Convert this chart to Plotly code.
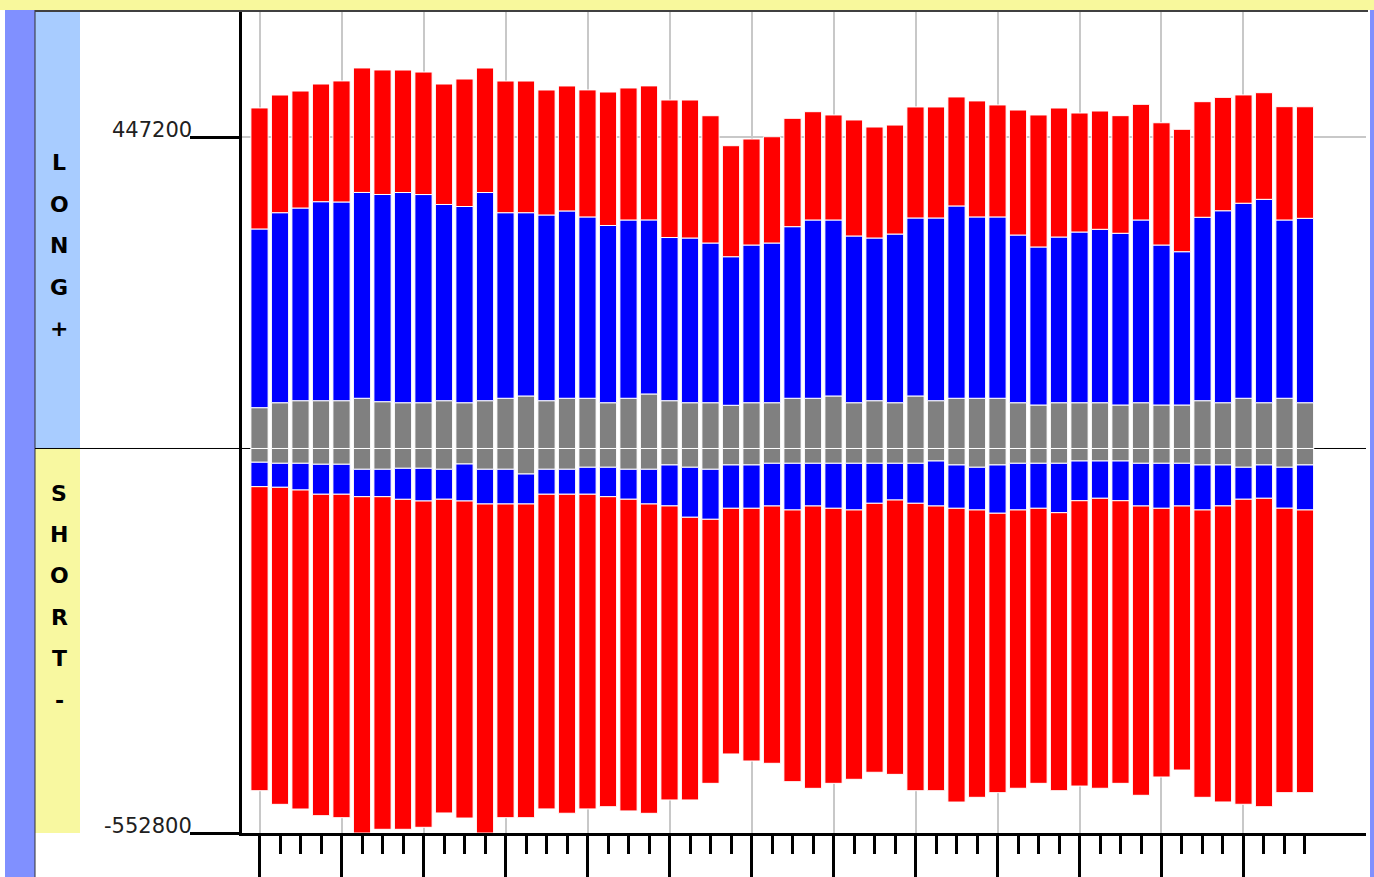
import plotly.graph_objects as go

# Weekly positions (contracts), long side
grey_long = [58700, 65800, 68700, 68700, 68700, 72200, 67300, 65800, 65800, 68700,
             65800, 68700, 72200, 75500, 68700, 72200, 72200, 65800, 72200, 78400,
             68700, 65800, 65800, 62100, 65800, 65800, 72200, 72200, 75500, 65800,
             68700, 65800, 75500, 68700, 72200, 72200, 72200, 65800, 62500, 65800,
             65800, 65800, 62500, 65800, 62500, 62500, 68700, 65800, 72200, 65800,
             72200, 65800]
blue_long = [256900, 273200, 277000, 286100, 285700, 295900, 297900, 302200, 299300, 282100,
             282100, 299300, 266800, 263500, 267000, 269300, 260700, 254800, 256300, 250200,
             234600, 236800, 229600, 213600, 226700, 229600, 246700, 256300, 253000, 239700,
             233900, 242500, 255900, 262700, 276500, 260700, 260700, 241100, 227200, 238200,
             245400, 249300, 246900, 262700, 230000, 220400, 263700, 276000, 280400, 292400,
             256300, 265100]
red_long = [174000, 169200, 168200, 169200, 174000, 179000, 179000, 176100, 176100, 173200,
            183300, 179000, 189300, 189300, 179700, 179700, 182600, 191900, 189800, 192700,
            197700, 198400, 183000, 159600, 152400, 152800, 155800, 155700, 151000, 166800,
            159600, 156700, 159600, 159600, 156700, 166800, 161000, 179700, 189800, 185500,
            171100, 170100, 169100, 166300, 175800, 176000, 166200, 163000, 155700, 153300,
            162900, 160400]

# Weekly positions (contracts), short side
grey_short = [19800, 21300, 21300, 22700, 22700, 29900, 29900, 28500, 28500, 29900,
              22300, 29900, 29900, 36700, 29900, 29900, 27000, 27000, 29900, 29900,
              23700, 27000, 29900, 23700, 23700, 21300, 21300, 21300, 21300, 21300,
              21300, 21300, 21300, 18000, 23700, 27000, 23700, 21300, 21300, 21300,
              18000, 18000, 18000, 21300, 21300, 21300, 23700, 23700, 27000, 23700,
              27000, 23700]
blue_short = [35100, 34500, 38400, 43100, 43100, 39400, 39400, 44600, 47000, 43100,
              53200, 49900, 49900, 43100, 35900, 35900, 38800, 42300, 43100, 49900,
              58900, 71900, 71900, 62300, 62300, 61400, 67100, 61400, 64700, 67100,
              57500, 52800, 57500, 64700, 62300, 61400, 69400, 67100, 64700, 71000,
              57100, 53600, 57100, 61400, 64700, 61400, 64700, 58900, 46000, 47900,
              58900, 64700]
red_short = [437100, 455800, 458600, 462100, 465000, 483500, 478200, 474400, 469100, 451000,
             455800, 473000, 451000, 451000, 452400, 458600, 452400, 445700, 448100, 444700,
             422700, 406400, 379600, 353200, 363300, 369900, 390600, 405900, 395400, 387200,
             386700, 394400, 413200, 409300, 422300, 413100, 401700, 400100, 395400, 399700,
             410200, 416900, 406300, 415900, 386300, 379600, 413100, 425600, 438500, 443400,
             408900, 406400]

y_ticks = [447200, -552800]
long_label = "LONG+"
short_label = "SHORT-"

n = len(grey_long)
weeks = list(range(n))

# figure geometry (pixels)
W, H = 1374, 877
L, R, T, B = 242, 8, 10, 44
PW, PH = W - L - R, H - T - B
Y_MIN, Y_MAX = -552800, 630400
X_RANGE = [-0.854, 53.976]
TICK_LEN = 49


def px(xpix):
    return (xpix - L) / PW


def py(ypix):
    return (H - B - ypix) / PH


def y_paper(v):
    return (v - Y_MIN) / (Y_MAX - Y_MIN)


RED, BLUE, GREY = "#ff0000", "#0000ff", "#808080"

fig = go.Figure()
series = [
    (grey_long, 1, GREY), (grey_short, -1, GREY),
    (blue_long, 1, BLUE), (blue_short, -1, BLUE),
    (red_long, 1, RED), (red_short, -1, RED),
]
for vals, sign, col in series:
    fig.add_trace(go.Bar(
        x=weeks, y=[sign * v for v in vals], width=0.84,
        marker=dict(color=col, line=dict(color="white", width=1)),
        showlegend=False, hoverinfo="skip",
    ))

shapes = []
BAND_YELLOW = "#f8f89c"
STRIP_BLUE = "#8090ff"
# top band and side strips
shapes.append(dict(type="rect", xref="paper", yref="paper", x0=px(0), x1=px(W),
                   y0=py(10), y1=py(0), fillcolor=BAND_YELLOW, line_width=0, layer="below"))
shapes.append(dict(type="rect", xref="paper", yref="paper", x0=px(5), x1=px(35),
                   y0=py(H), y1=py(10), fillcolor=STRIP_BLUE, line_width=0, layer="below"))
shapes.append(dict(type="rect", xref="paper", yref="paper", x0=px(1370), x1=px(W),
                   y0=py(H), y1=py(10), fillcolor=STRIP_BLUE, line_width=0, layer="below"))
# long / short side panels
zero_p = y_paper(0)
shapes.append(dict(type="rect", xref="paper", yref="paper", x0=px(35), x1=px(80),
                   y0=zero_p, y1=py(10), fillcolor="#a8ccff", line_width=0, layer="below"))
shapes.append(dict(type="rect", xref="paper", yref="paper", x0=px(35), x1=px(80),
                   y0=0, y1=zero_p, fillcolor="#f8f8a0", line_width=0, layer="below"))
# frame lines
shapes.append(dict(type="line", xref="paper", yref="paper", x0=px(35), x1=px(35),
                   y0=py(H), y1=py(10), line=dict(color="#303030", width=1)))
shapes.append(dict(type="line", xref="paper", yref="paper", x0=px(35), x1=px(1368),
                   y0=py(11), y1=py(11), line=dict(color="#404040", width=2)))
# zero line outside the bar block
shapes.append(dict(type="line", xref="paper", yref="paper", x0=px(35), x1=0,
                   y0=zero_p, y1=zero_p, line=dict(color="black", width=1)))
shapes.append(dict(type="line", xref="x", yref="y", x0=X_RANGE[0], x1=-0.45,
                   y0=0, y1=0, line=dict(color="black", width=1)))
shapes.append(dict(type="line", xref="x", yref="y", x0=n - 0.55, x1=X_RANGE[1],
                   y0=0, y1=0, line=dict(color="black", width=1)))

annotations = []
letter_font = dict(family="DejaVu Sans", size=22, color="black")
for i, ch in enumerate(long_label):
    annotations.append(dict(xref="paper", yref="paper", x=px(59), y=py(163 + 41.4 * i),
                            text=f"<b>{ch}</b>", showarrow=False, font=letter_font,
                            xanchor="center", yanchor="middle"))
for i, ch in enumerate(short_label):
    annotations.append(dict(xref="paper", yref="paper", x=px(59), y=py(493 + 41.4 * i),
                            text=f"<b>{ch}</b>", showarrow=False, font=letter_font,
                            xanchor="center", yanchor="middle"))

# y tick labels sit just above their tick marks, left of the tick line
for v in y_ticks:
    annotations.append(dict(xref="paper", yref="y", x=px(L - TICK_LEN), y=v,
                            text=str(v), showarrow=False, xanchor="right",
                            yanchor="middle", yshift=7, xshift=1,
                            font=dict(family="DejaVu Sans", size=21, color="#202020")))

major = [w for w in weeks if w % 4 == 0]
minor = [w for w in weeks if w % 4 != 0]

fig.update_layout(
    width=W, height=H,
    margin=dict(l=L, r=R, t=T, b=B, pad=0, autoexpand=False),
    paper_bgcolor="white", plot_bgcolor="rgba(0,0,0,0)",
    barmode="relative", bargap=0.16,
    shapes=shapes, annotations=annotations,
    xaxis=dict(
        range=X_RANGE, showline=True, linecolor="black", linewidth=3,
        tickmode="array", tickvals=major, ticks="outside", ticklen=50,
        tickwidth=3, tickcolor="black", showticklabels=False, automargin=False,
        showgrid=True, gridcolor="#c8c8c8", gridwidth=2, zeroline=False,
        minor=dict(tickmode="array", tickvals=minor, ticks="outside", ticklen=18,
                   tickwidth=3, tickcolor="black", showgrid=False),
    ),
    yaxis=dict(
        range=[Y_MIN, Y_MAX], showline=True, linecolor="black", linewidth=3,
        tickmode="array", tickvals=y_ticks, showticklabels=False,
        ticks="outside", ticklen=TICK_LEN, tickwidth=3, tickcolor="black",
        automargin=False,
        showgrid=True, gridcolor="#c8c8c8", gridwidth=2, zeroline=False,
    ),
)

fig.write_html("out.html")
